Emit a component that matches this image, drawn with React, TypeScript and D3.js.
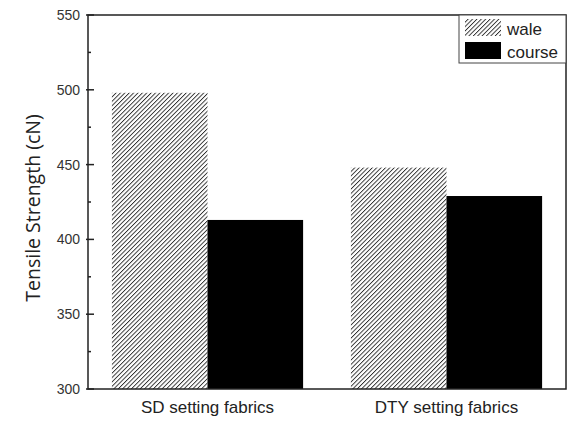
import * as d3 from "d3";
import { useEffect, useRef } from "react";

const groups = ["SD setting fabrics", "DTY setting fabrics"];
const series = ["wale", "course"];
const wale = [498, 448];
const course = [413, 429];
const yTicks = [300, 350, 400, 450, 500, 550];

export default function App() {
  const ref = useRef<SVGSVGElement | null>(null);
  useEffect(() => {
    if (!ref.current) return;
    const svg = d3.select(ref.current);
    svg.selectAll("*").remove();
    const width = 569;
    const height = 423;
    const m = { top: 15, right: 3, bottom: 34, left: 88 };

    const defs = svg.append("defs");
    const pat = defs.append("pattern")
      .attr("id", "hatch")
      .attr("patternUnits", "userSpaceOnUse")
      .attr("width", 3.1)
      .attr("height", 3.1)
      .attr("patternTransform", "rotate(45)");
    pat.append("rect").attr("width", 3.1).attr("height", 3.1).attr("fill", "#fff");
    pat.append("line")
      .attr("x1", 0).attr("y1", 0).attr("x2", 0).attr("y2", 3.1)
      .attr("stroke", "#2a2a2a").attr("stroke-width", 1.8);

    const x0 = d3.scaleBand().domain(groups)
      .range([m.left, width - m.right]).paddingInner(0.2).paddingOuter(0.1);
    const x1 = d3.scaleBand().domain(series).range([0, x0.bandwidth()]);
    const y = d3.scaleLinear().domain([300, 550]).range([height - m.bottom, m.top]);

    const rows = groups.map((g, i) => ({ g, vals: [wale[i], course[i]] }));
    const fills = ["url(#hatch)", "#000"];

    svg.append("g").selectAll("g").data(rows).join("g")
      .attr("transform", (d) => `translate(${x0(d.g)},0)`)
      .selectAll("rect")
      .data((d) => d.vals.map((v, j) => ({ s: series[j], v, j })))
      .join("rect")
      .attr("x", (d) => x1(d.s)!)
      .attr("width", x1.bandwidth())
      .attr("y", (d) => y(d.v))
      .attr("height", (d) => y(300) - y(d.v))
      .attr("fill", (d) => fills[d.j]);

    // frame
    svg.append("rect")
      .attr("x", m.left).attr("y", m.top)
      .attr("width", width - m.right - m.left)
      .attr("height", height - m.bottom - m.top)
      .attr("fill", "none").attr("stroke", "#222").attr("stroke-width", 1.5);

    // y axis ticks (inward)
    const ax = svg.append("g");
    ax.selectAll("line.maj").data(yTicks).join("line")
      .attr("x1", m.left - 2).attr("x2", m.left + 6)
      .attr("y1", (d) => y(d)).attr("y2", (d) => y(d))
      .attr("stroke", "#222").attr("stroke-width", 1.5);
    ax.selectAll("line.min").data(yTicks.slice(0, -1).map((d) => d + 25)).join("line")
      .attr("x1", m.left).attr("x2", m.left + 3)
      .attr("y1", (d) => y(d)).attr("y2", (d) => y(d))
      .attr("stroke", "#222").attr("stroke-width", 1.5);
    ax.selectAll("text").data(yTicks).join("text")
      .attr("x", m.left - 8).attr("y", (d) => y(d))
      .attr("dy", "0.35em").attr("text-anchor", "end")
      .attr("font-family", "Liberation Sans, Arial, sans-serif")
      .attr("font-size", 14).attr("fill", "#333")
      .text((d) => d);

    svg.append("g").selectAll("text").data(groups).join("text")
      .attr("x", (d) => x0(d)! + x0.bandwidth() / 2)
      .attr("y", 413)
      .attr("text-anchor", "middle")
      .attr("font-family", "Liberation Sans, Arial, sans-serif")
      .attr("font-size", 17).attr("fill", "#222")
      .text((d) => d);

    svg.append("text")
      .attr("transform", `translate(40,${208}) rotate(-90)`)
      .attr("text-anchor", "middle")
      .attr("font-family", "Open Sans, sans-serif")
      .attr("font-size", 19.5).attr("fill", "#222")
      .text("Tensile Strength (cN)");

    // legend
    const lg = svg.append("g");
    lg.append("rect").attr("x", 459).attr("y", 15).attr("width", 107).attr("height", 48)
      .attr("fill", "#fff").attr("stroke", "#444").attr("stroke-width", 1);
    series.forEach((s, i) => {
      lg.append("rect").attr("x", 465).attr("y", 19 + i * 23).attr("width", 36).attr("height", 17)
        .attr("fill", fills[i]);
      lg.append("text").attr("x", 507).attr("y", 29 + i * 23).attr("dy", "0.35em")
        .attr("font-family", "Liberation Sans, Arial, sans-serif")
        .attr("font-size", 17).attr("fill", "#222").text(s);
    });
  }, []);
  return <svg ref={ref} width={569} height={423} style={{ position: "absolute", left: 0, top: 0 }} />;
}
